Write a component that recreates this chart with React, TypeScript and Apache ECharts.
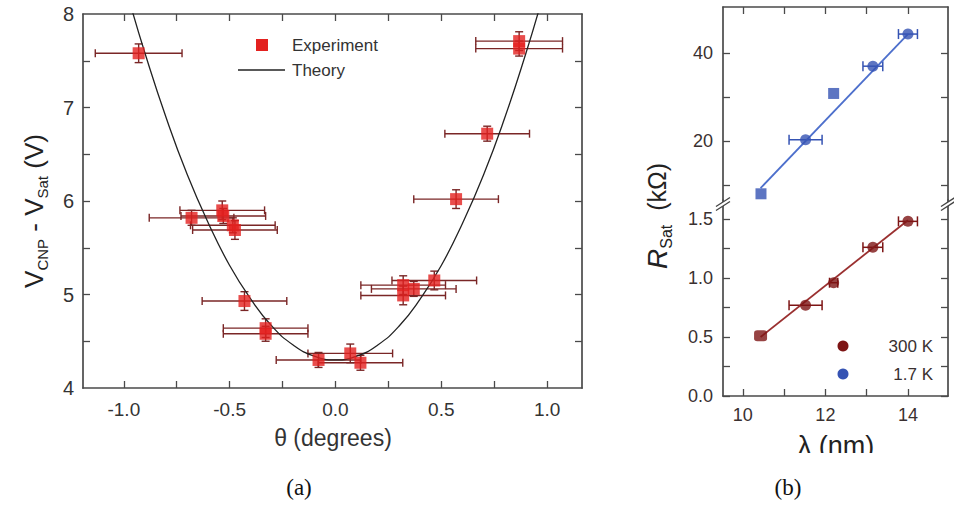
import React, { useEffect, useRef } from "react";
import * as echarts from "echarts";

// ---- Panel (a) data ----
const thetaExp = [-0.93, -0.68, -0.535, -0.53, -0.485, -0.475, -0.43, -0.33, -0.33, -0.08, 0.07, 0.118, 0.32, 0.32, 0.37, 0.467, 0.57, 0.717, 0.868, 0.868];
const vExp = [7.58, 5.82, 5.9, 5.84, 5.74, 5.69, 4.93, 4.64, 4.58, 4.3, 4.37, 4.27, 5.1, 4.99, 5.06, 5.15, 6.02, 6.72, 7.71, 7.63];
const thetaErr = [0.205, 0.2, 0.2, 0.2, 0.2, 0.2, 0.2, 0.2, 0.2, 0.2, 0.2, 0.2, 0.2, 0.2, 0.2, 0.2, 0.2, 0.2, 0.205, 0.205];
const vErr = [0.1, 0.08, 0.1, 0.08, 0.08, 0.1, 0.1, 0.1, 0.08, 0.08, 0.1, 0.08, 0.1, 0.1, 0.08, 0.1, 0.1, 0.08, 0.1, 0.08];
const theoryTheta = [-0.97, -0.9, -0.8, -0.7, -0.6, -0.5, -0.4, -0.3, -0.2, -0.1, 0, 0.1, 0.2, 0.3, 0.4, 0.5, 0.6, 0.7, 0.8, 0.9, 0.97];
const theoryV = [8.11, 7.58, 6.89, 6.28, 5.76, 5.31, 4.95, 4.66, 4.46, 4.34, 4.3, 4.34, 4.46, 4.66, 4.95, 5.31, 5.76, 6.28, 6.89, 7.58, 8.11];
const thetaTicks = [-1, -0.75, -0.5, -0.25, 0, 0.25, 0.5, 0.75, 1];
const thetaLabels = [-1, -0.5, 0, 0.5, 1];
const vTicks = [4.5, 5, 5.5, 6, 6.5, 7, 7.5];
const vLabels = [4, 5, 6, 7, 8];

// ---- Panel (b) data ----
const lambda300 = [10.43, 11.52, 12.2, 13.15, 14.0];
const r300 = [0.51, 0.77, 0.96, 1.26, 1.48];
const lambdaErr300 = [0, 0.4, 0.1, 0.24, 0.23];
const lambda17 = [10.44, 11.52, 12.2, 13.15, 14.0];
const r17 = [8.0, 20.3, 30.8, 37.0, 44.3];
const lambdaErr17 = [0, 0.4, 0, 0.24, 0.23];
const square300 = [true, false, false, false, false];
const square17 = [true, false, true, false, false];
const fitLambda = [10.43, 14.0];
const fit300 = [0.5, 1.49];
const fit17 = [9.3, 44.3];
const lambdaTicks = [10, 11, 12, 13, 14];
const lambdaLabels = [10, 12, 14];
const rHighTicks = [10, 20, 30, 40];
const rHighLabels = [20, 40];
const rLowTicks = [0, 0.25, 0.5, 0.75, 1, 1.25, 1.5];
const rLowLabels = [0, 0.5, 1, 1.5];

const RED = "#e3211f";
const ERR = "#7a2626";
const MAROON = "#7d1414";
const BLUE = "#3553b3";
const AXIS = "#4a4a4a";
const SANS = "Liberation Sans";

function App() {
  const ref = useRef<HTMLDivElement>(null);
  useEffect(() => {
    if (!ref.current) return;
    const chart = echarts.init(ref.current, null, { renderer: "svg" });

    const axisLine = () => ({ show: true, onZero: false, lineStyle: { color: AXIS, width: 1.7 } });
    const ticks = (vals: number[]) => ({ show: true, inside: true, length: 7, customValues: vals, lineStyle: { color: AXIS, width: 1.3 } });

    const errBarsLeft = {
      type: "custom",
      xAxisIndex: 0,
      yAxisIndex: 0,
      z: 2,
      data: thetaExp.map((t, i) => [t, vExp[i], thetaErr[i], vErr[i]]),
      renderItem: (params: any, api: any) => {
        const x = api.value(0), y = api.value(1), ex = api.value(2), ey = api.value(3);
        const l = api.coord([x - ex, y]);
        const r = api.coord([x + ex, y]);
        const t = api.coord([x, y + ey]);
        const b = api.coord([x, y - ey]);
        const cap = 4;
        const st = { stroke: ERR, lineWidth: 1.4 };
        return {
          type: "group",
          children: [
            { type: "line", shape: { x1: l[0], y1: l[1], x2: r[0], y2: r[1] }, style: st },
            { type: "line", shape: { x1: l[0], y1: l[1] - cap, x2: l[0], y2: l[1] + cap }, style: st },
            { type: "line", shape: { x1: r[0], y1: r[1] - cap, x2: r[0], y2: r[1] + cap }, style: st },
            { type: "line", shape: { x1: t[0], y1: t[1], x2: b[0], y2: b[1] }, style: st },
            { type: "line", shape: { x1: t[0] - cap, y1: t[1], x2: t[0] + cap, y2: t[1] }, style: st },
            { type: "line", shape: { x1: b[0] - cap, y1: b[1], x2: b[0] + cap, y2: b[1] }, style: st },
          ],
        };
      },
    };

    const hErr = (xs: number[], ys: number[], es: number[], color: string, xi: number, yi: number) => ({
      type: "custom",
      xAxisIndex: xi,
      yAxisIndex: yi,
      z: 2,
      data: xs.map((x, i) => [x, ys[i], es[i]]),
      renderItem: (params: any, api: any) => {
        const x = api.value(0), y = api.value(1), ex = api.value(2);
        if (!ex) return { type: "group", children: [] };
        const l = api.coord([x - ex, y]);
        const r = api.coord([x + ex, y]);
        const cap = 5;
        const st = { stroke: color, lineWidth: 1.5 };
        return {
          type: "group",
          children: [
            { type: "line", shape: { x1: l[0], y1: l[1], x2: r[0], y2: r[1] }, style: st },
            { type: "line", shape: { x1: l[0], y1: l[1] - cap, x2: l[0], y2: l[1] + cap }, style: st },
            { type: "line", shape: { x1: r[0], y1: r[1] - cap, x2: r[0], y2: r[1] + cap }, style: st },
          ],
        };
      },
    });

    const breakMarks = (x: number) => [
      { type: "polygon", shape: { points: [[x - 6, 206], [x + 6, 198], [x + 6, 202], [x - 6, 210]] }, style: { fill: "#fff" }, z: 100 },
      { type: "line", shape: { x1: x - 7, y1: 206.5, x2: x + 7, y2: 197.5 }, style: { stroke: "#444", lineWidth: 1.3 }, z: 101 },
      { type: "line", shape: { x1: x - 7, y1: 210.5, x2: x + 7, y2: 201.5 }, style: { stroke: "#444", lineWidth: 1.3 }, z: 101 },
    ];

    const option: any = {
      animation: false,
      backgroundColor: "#fff",
      textStyle: { fontFamily: SANS },
      grid: [
        { left: 83, top: 14, width: 499, height: 374, outerBoundsMode: "none" },
        { left: 723, top: 7, width: 225, height: 193, outerBoundsMode: "none" },
        { left: 723, top: 200, width: 225, height: 196, outerBoundsMode: "none" },
      ],
      xAxis: [
        {
          type: "value", gridIndex: 0, position: "bottom", min: -1.193, max: 1.165,
          axisLine: axisLine(), splitLine: { show: false }, axisTick: ticks(thetaTicks),
          axisLabel: { customValues: thetaLabels, formatter: (v: number) => v.toFixed(1), fontSize: 19, color: "#333", margin: 12, fontFamily: SANS },
        },
        {
          type: "value", gridIndex: 0, position: "top", min: -1.193, max: 1.165,
          axisLine: axisLine(), splitLine: { show: false }, axisTick: ticks(thetaTicks), axisLabel: { show: false },
        },
        {
          type: "value", gridIndex: 1, position: "top", min: 9.52, max: 14.97,
          axisLine: axisLine(), splitLine: { show: false }, axisTick: ticks(lambdaTicks), axisLabel: { show: false },
        },
        {
          type: "value", gridIndex: 2, position: "bottom", min: 9.52, max: 14.97,
          axisLine: axisLine(), splitLine: { show: false }, axisTick: ticks(lambdaTicks),
          axisLabel: { customValues: lambdaLabels, fontSize: 18, color: "#3a3030", margin: 10, fontFamily: SANS },
        },
      ],
      yAxis: [
        {
          type: "value", gridIndex: 0, position: "left", min: 4, max: 8,
          axisLine: axisLine(), splitLine: { show: false }, axisTick: ticks(vTicks),
          axisLabel: { customValues: vLabels, fontSize: 20, color: "#333", margin: 9, fontFamily: SANS },
        },
        {
          type: "value", gridIndex: 0, position: "right", min: 4, max: 8,
          axisLine: axisLine(), splitLine: { show: false }, axisTick: ticks(vTicks), axisLabel: { show: false },
        },
        {
          type: "value", gridIndex: 1, position: "left", min: 6.59, max: 50.45,
          axisLine: axisLine(), splitLine: { show: false }, axisTick: ticks(rHighTicks),
          axisLabel: { customValues: rHighLabels, fontSize: 18, color: "#3a3030", margin: 10, fontFamily: SANS },
        },
        {
          type: "value", gridIndex: 1, position: "right", min: 6.59, max: 50.45,
          axisLine: axisLine(), splitLine: { show: false }, axisTick: ticks(rHighTicks), axisLabel: { show: false },
        },
        {
          type: "value", gridIndex: 2, position: "left", min: 0, max: 1.661,
          axisLine: axisLine(), splitLine: { show: false }, axisTick: ticks(rLowTicks),
          axisLabel: { customValues: rLowLabels, formatter: (v: number) => v.toFixed(1), fontSize: 18, color: "#3a3030", margin: 10, fontFamily: SANS },
        },
        {
          type: "value", gridIndex: 2, position: "right", min: 0, max: 1.661,
          axisLine: axisLine(), splitLine: { show: false }, axisTick: ticks(rLowTicks), axisLabel: { show: false },
        },
      ],
      series: [
        {
          type: "line", name: "Theory", xAxisIndex: 0, yAxisIndex: 0, smooth: true, symbol: "none", clip: true,
          data: theoryTheta.map((t, i) => [t, theoryV[i]]),
          lineStyle: { color: "#222", width: 1.3 }, z: 3,
        },
        errBarsLeft,
        {
          type: "scatter", name: "Experiment", xAxisIndex: 0, yAxisIndex: 0, symbol: "rect", symbolSize: 12,
          data: thetaExp.map((t, i) => [t, vExp[i]]),
          itemStyle: { color: RED }, z: 4,
        },
        {
          type: "line", xAxisIndex: 2, yAxisIndex: 2, symbol: "none",
          data: fitLambda.map((l, i) => [l, fit17[i]]),
          lineStyle: { color: "#4d6fcc", width: 1.8 }, z: 2,
        },
        hErr(lambda17, r17, lambdaErr17, BLUE, 2, 2),
        {
          type: "scatter", name: "1.7 K", xAxisIndex: 2, yAxisIndex: 2,
          data: lambda17.map((l, i) => ({ value: [l, r17[i]], symbol: square17[i] ? "rect" : "circle", symbolSize: 11 })),
          itemStyle: { color: BLUE }, z: 4,
        },
        {
          type: "line", xAxisIndex: 3, yAxisIndex: 4, symbol: "none",
          data: fitLambda.map((l, i) => [l, fit300[i]]),
          lineStyle: { color: "#9a3030", width: 1.8 }, z: 2,
        },
        hErr(lambda300, r300, lambdaErr300, MAROON, 3, 4),
        {
          type: "scatter", name: "300 K", xAxisIndex: 3, yAxisIndex: 4,
          data: lambda300.map((l, i) => ({ value: [l, r300[i]], symbol: square300[i] ? "roundRect" : "circle", symbolSize: square300[i] ? [13, 11] : 11 })),
          itemStyle: { color: MAROON }, z: 4,
        },
      ],
      graphic: [
        // Panel (a) legend
        { type: "rect", shape: { x: 256, y: 39, width: 12, height: 12 }, style: { fill: RED } },
        { type: "text", x: 292, y: 45, style: { text: "Experiment", fontSize: 17, fontFamily: SANS, fill: "#333", verticalAlign: "middle" } },
        { type: "line", shape: { x1: 238, y1: 70, x2: 285, y2: 70 }, style: { stroke: "#222", lineWidth: 1.3 } },
        { type: "text", x: 292, y: 70, style: { text: "Theory", fontSize: 17, fontFamily: SANS, fill: "#333", verticalAlign: "middle" } },
        // Panel (a) axis titles
        {
          type: "text", x: 34, y: 211, rotation: Math.PI / 2,
          style: {
            text: "{a|V}{b|CNP}{a| - V}{b|Sat}{a| (V)}",
            align: "center", verticalAlign: "middle", fill: "#222",
            rich: {
              a: { fontSize: 26, fontFamily: SANS, fill: "#222", lineHeight: 32, verticalAlign: "middle" },
              b: { fontSize: 15, fontFamily: SANS, fill: "#222", lineHeight: 32, verticalAlign: "bottom" },
            },
          },
        },
        { type: "text", x: 333, y: 438, style: { text: "θ (degrees)", fontSize: 23, fontFamily: SANS, fill: "#333", align: "center", verticalAlign: "middle" } },
        // Panel (b) legend
        { type: "circle", shape: { cx: 843, cy: 346, r: 5.5 }, style: { fill: MAROON } },
        { type: "text", x: 933, y: 346, style: { text: "300 K", fontSize: 17, fontFamily: SANS, fill: "#3a3030", align: "right", verticalAlign: "middle" } },
        { type: "circle", shape: { cx: 843, cy: 374, r: 5.5 }, style: { fill: BLUE } },
        { type: "text", x: 933, y: 374, style: { text: "1.7 K", fontSize: 17, fontFamily: SANS, fill: "#3a3030", align: "right", verticalAlign: "middle" } },
        // Panel (b) axis titles
        {
          type: "text", x: 657, y: 216, rotation: Math.PI / 2,
          style: {
            text: "{r|R}{b|Sat}{a|  (kΩ)}",
            align: "center", verticalAlign: "middle", fill: "#222",
            rich: {
              r: { fontSize: 28, fontStyle: "italic", fontFamily: SANS, fill: "#222", lineHeight: 34, verticalAlign: "middle" },
              a: { fontSize: 25, fontFamily: SANS, fill: "#222", lineHeight: 34, verticalAlign: "middle" },
              b: { fontSize: 16, fontFamily: SANS, fill: "#222", lineHeight: 34, verticalAlign: "bottom" },
            },
          },
        },
        { type: "text", x: 836, y: 432, style: { text: "λ (nm)", fontSize: 27, fontFamily: SANS, fill: "#222", align: "center", verticalAlign: "top" } },
        { type: "rect", shape: { x: 760, y: 453, width: 160, height: 20 }, style: { fill: "#fff" }, z: 50 },
        ...breakMarks(723),
        ...breakMarks(948),
        // Captions
        { type: "text", x: 299, y: 487, style: { text: "(a)", fontSize: 23, fontFamily: "Liberation Serif", fill: "#111", align: "center", verticalAlign: "middle" } },
        { type: "text", x: 788, y: 487, style: { text: "(b)", fontSize: 23, fontFamily: "Liberation Serif", fill: "#111", align: "center", verticalAlign: "middle" } },
      ],
    };

    chart.setOption(option);
    return () => chart.dispose();
  }, []);

  return <div ref={ref} style={{ position: "fixed", left: 0, top: 0, width: 954, height: 505 }} />;
}

export default App;
